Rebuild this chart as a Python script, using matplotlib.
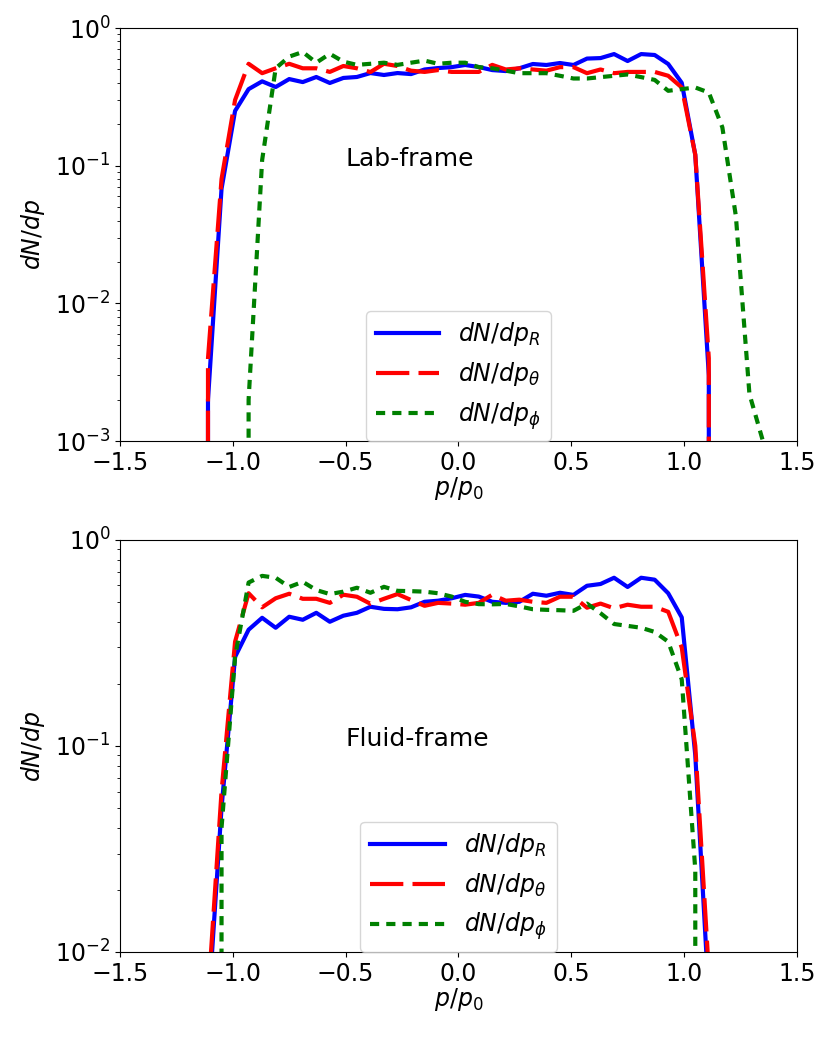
import matplotlib
matplotlib.use('Agg')
import matplotlib.pyplot as plt
import numpy as np

# bin centres in p/p0
p = [-1.17, -1.11, -1.05, -0.99, -0.93, -0.87, -0.81, -0.75, -0.69, -0.63,
     -0.57, -0.51, -0.45, -0.39, -0.33, -0.27, -0.21, -0.15, -0.09, -0.03,
     0.03, 0.09, 0.15, 0.21, 0.27, 0.33, 0.39, 0.45, 0.51, 0.57,
     0.63, 0.69, 0.75, 0.81, 0.87, 0.93, 0.99, 1.05, 1.11, 1.17,
     1.23, 1.29, 1.35, 1.41]

######## LAB FRAME ########
lab_R = [0, 0.002, 0.068, 0.25, 0.36, 0.41, 0.373, 0.426, 0.405, 0.441,
         0.399, 0.434, 0.441, 0.471, 0.456, 0.471, 0.463, 0.50, 0.512, 0.52,
         0.539, 0.521, 0.495, 0.487, 0.51, 0.548, 0.539, 0.557, 0.539, 0.60,
         0.605, 0.647, 0.576, 0.647, 0.637, 0.548, 0.40, 0.12, 0.003, 0,
         0, 0, 0, 0]
lab_th = [0, 0.004, 0.08, 0.30, 0.55, 0.47, 0.51, 0.55, 0.51, 0.51,
          0.48, 0.53, 0.51, 0.479, 0.55, 0.53, 0.49, 0.48, 0.495, 0.48,
          0.48, 0.48, 0.54, 0.50, 0.51, 0.50, 0.49, 0.52, 0.52, 0.47,
          0.50, 0.47, 0.48, 0.48, 0.48, 0.45, 0.37, 0.12, 0.004, 0,
          0, 0, 0, 0]
lab_ph = [0, 0, 0, 0, 0.002, 0.11, 0.51, 0.62, 0.67, 0.56,
          0.65, 0.57, 0.54, 0.55, 0.56, 0.54, 0.56, 0.58, 0.55, 0.56,
          0.56, 0.52, 0.51, 0.49, 0.47, 0.47, 0.47, 0.45, 0.43, 0.43,
          0.44, 0.45, 0.46, 0.44, 0.42, 0.35, 0.36, 0.37, 0.34, 0.19,
          0.043, 0.0022, 0.001, 0]

######## FLUID FRAME ########
fl_R = [0, 0.005, 0.05, 0.27, 0.366, 0.418, 0.374, 0.423, 0.409, 0.442,
        0.40, 0.428, 0.442, 0.473, 0.462, 0.46, 0.47, 0.50, 0.506, 0.52,
        0.54, 0.53, 0.50, 0.494, 0.50, 0.547, 0.535, 0.553, 0.54, 0.598,
        0.61, 0.654, 0.59, 0.654, 0.64, 0.55, 0.42, 0.09, 0.006, 0,
        0, 0, 0, 0]
fl_th = [0, 0.006, 0.06, 0.32, 0.55, 0.47, 0.52, 0.547, 0.517, 0.517,
         0.494, 0.541, 0.529, 0.489, 0.517, 0.545, 0.51, 0.478, 0.494, 0.49,
         0.484, 0.494, 0.541, 0.506, 0.512, 0.50, 0.494, 0.529, 0.529, 0.468,
         0.49, 0.465, 0.484, 0.473, 0.473, 0.447, 0.30, 0.10, 0.008, 0,
         0, 0, 0, 0]
fl_ph = [0, 0, 0.04, 0.27, 0.62, 0.668, 0.654, 0.59, 0.625, 0.57,
         0.545, 0.56, 0.585, 0.553, 0.591, 0.565, 0.563, 0.56, 0.55, 0.53,
         0.50, 0.487, 0.486, 0.488, 0.475, 0.46, 0.457, 0.455, 0.452, 0.49,
         0.44, 0.39, 0.382, 0.374, 0.357, 0.32, 0.21, 0.025, 0, 0,
         0, 0, 0, 0]

plt.rcParams['font.size'] = 17

fig = plt.figure(figsize=(8.3, 10.38), dpi=100)
ax1 = fig.add_axes([0.1446, 0.575, 0.8154, 0.398])
ax2 = fig.add_axes([0.1446, 0.083, 0.8154, 0.397])


def panel(ax, R, th, ph, ymin, name, hl):
    ax.plot(p, R, color='b', lw=3, label=r'$dN/dp_R$')
    ax.plot(p, th, color='r', lw=3, dashes=(8, 2.2), label=r'$dN/dp_\theta$')
    ax.plot(p, ph, color='g', lw=3, dashes=(2.2, 1.7), label=r'$dN/dp_\phi$')
    ax.set_yscale('log')
    ax.set_xlim(-1.5, 1.5)
    ax.set_ylim(ymin, 1)
    ax.set_xticks([-1.5, -1.0, -0.5, 0.0, 0.5, 1.0, 1.5])
    ax.set_xlabel(r'$p/p_0$', labelpad=0)
    ax.set_ylabel(r'$dN/dp$', labelpad=6)
    ax.text(-0.5, 0.1, name, fontsize=18)
    ax.legend(loc='lower center', borderaxespad=0, handlelength=hl,
              fontsize=17)


panel(ax1, lab_R, lab_th, lab_ph, 1e-3, 'Lab-frame', 2.7)
panel(ax2, fl_R, fl_th, fl_ph, 1e-2, 'Fluid-frame', 3.2)

fig.savefig('out.png', dpi=100)
